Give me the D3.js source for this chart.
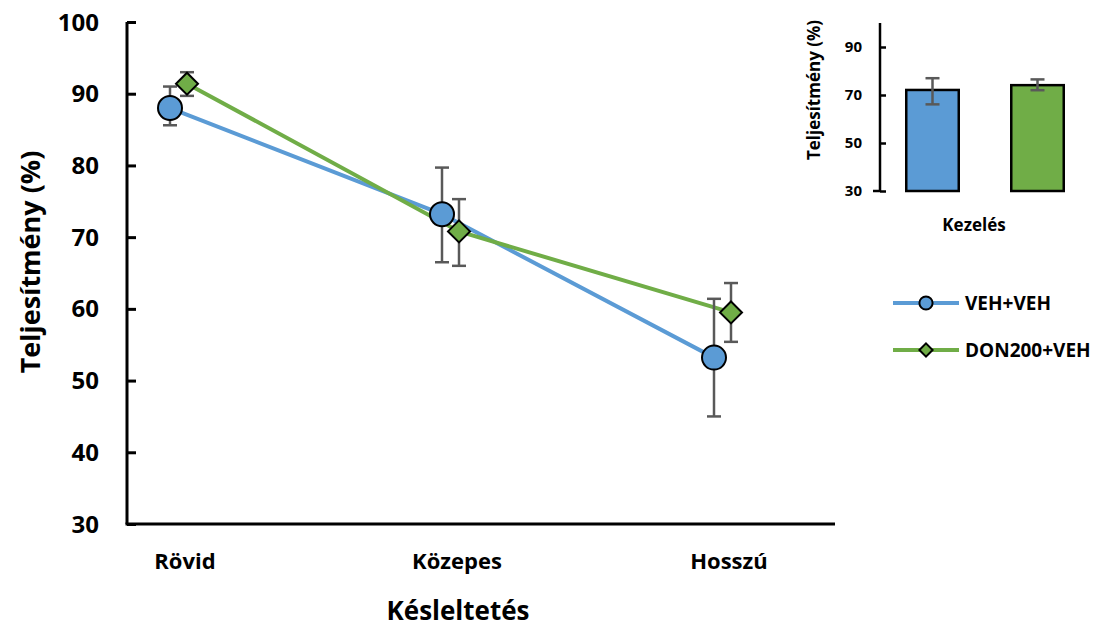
<!DOCTYPE html>
<html><head><meta charset="utf-8">
<script src="https://cdn.jsdelivr.net/npm/d3@7"></script>
<style>body{margin:0;background:#fff}svg{display:block}text{font-family:"Open Sans",Lato,sans-serif;font-weight:bold;fill:#000}</style>
</head><body><svg id="c" width="1096" height="629"></svg>
<script>
const categories = ["Rövid", "Közepes", "Hosszú"];
const seriesNames = ["VEH+VEH", "DON200+VEH"];
const vehMean = [88.0, 73.2, 53.2];
const vehErrLow = [85.6, 66.5, 45.0];
const vehErrHigh = [91.0, 79.7, 61.4];
const donMean = [91.4, 70.8, 59.5];
const donErrLow = [89.7, 66.0, 55.4];
const donErrHigh = [93.0, 75.3, 63.6];
const yTicks = [30, 40, 50, 60, 70, 80, 90, 100];
const insetCategories = ["VEH+VEH", "DON200+VEH"];
const insetMean = [72.1, 74.1];
const insetErrLow = [66.1, 72.0];
const insetErrHigh = [77.0, 76.5];
const insetTicks = [30, 50, 70, 90];

const colors = ["#5B9BD5", "#70AD47"];
const errColor = "#595959";
const svg = d3.select("#c");

// main chart
const y = d3.scaleLinear().domain([30, 100]).range([524, 22]);
const x = d3.scalePoint().domain(categories).range([185, 729]);
const axisLeftX = 127, axisRight = 835;

const yAx = svg.append("g").attr("transform", `translate(${axisLeftX},0)`)
  .call(d3.axisRight(y).tickValues(yTicks).tickSize(9).tickFormat(""));
yAx.select(".domain").attr("stroke", "#000").attr("stroke-width", 3).attr("d", `M0,${y(100)}V${y(30)}`);
yAx.selectAll(".tick line").attr("stroke", "#000").attr("stroke-width", 3);
svg.append("g").selectAll("text").data(yTicks).join("text")
  .attr("x", 99).attr("y", d => y(d)).attr("dy", "0.36em").attr("text-anchor", "end")
  .style("font-size", "24px").text(d => d);
svg.append("line").attr("x1", axisLeftX - 1.5).attr("x2", axisRight).attr("y1", y(30)).attr("y2", y(30))
  .attr("stroke", "#000").attr("stroke-width", 3);
svg.append("g").selectAll("text").data(categories).join("text")
  .attr("x", d => x(d)).attr("y", 569).attr("text-anchor", "middle").style("font-size", "22px").text(d => d);
svg.append("text").attr("x", 458).attr("y", 620).attr("text-anchor", "middle").style("font-size", "26px").text("Késleltetés");
svg.append("text").attr("transform", "translate(40,262) rotate(-90)").attr("text-anchor", "middle")
  .style("font-size", "27px").text("Teljesítmény (%)");

const series = [
  {name: seriesNames[0], mean: vehMean, lo: vehErrLow, hi: vehErrHigh, off: -15, color: colors[0], shape: "circle"},
  {name: seriesNames[1], mean: donMean, lo: donErrLow, hi: donErrHigh, off: 2, color: colors[1], shape: "diamond"}
];
const line = d3.line();
series.forEach(s => {
  const pts = categories.map((c, i) => [x(c) + s.off, y(s.mean[i])]);
  svg.append("path").attr("d", line(pts)).attr("fill", "none").attr("stroke", s.color).attr("stroke-width", 4);
});
series.forEach(s => {
  const g = svg.append("g");
  categories.forEach((c, i) => {
    const cx = x(c) + s.off;
    g.append("line").attr("x1", cx).attr("x2", cx).attr("y1", y(s.lo[i])).attr("y2", y(s.hi[i]))
      .attr("stroke", errColor).attr("stroke-width", 2.5);
    [s.lo[i], s.hi[i]].forEach(v => g.append("line").attr("x1", cx - 7).attr("x2", cx + 7)
      .attr("y1", y(v)).attr("y2", y(v)).attr("stroke", errColor).attr("stroke-width", 2.5));
  });
});
function marker(g, shape, cx, cy, color, scale) {
  if (shape === "circle") {
    g.append("circle").attr("cx", cx).attr("cy", cy).attr("r", 12 * scale).attr("fill", color)
      .attr("stroke", "#000").attr("stroke-width", 2);
  } else {
    const r = 11 * scale;
    g.append("path").attr("d", `M${cx},${cy - r}L${cx + r},${cy}L${cx},${cy + r}L${cx - r},${cy}Z`)
      .attr("fill", color).attr("stroke", "#000").attr("stroke-width", 2);
  }
}
series.forEach(s => {
  const g = svg.append("g");
  categories.forEach((c, i) => marker(g, s.shape, x(c) + s.off, y(s.mean[i]), s.color, 1));
});

// legend
series.forEach((s, i) => {
  const ly = 303 + i * 47;
  svg.append("line").attr("x1", 893).attr("x2", 959).attr("y1", ly).attr("y2", ly)
    .attr("stroke", s.color).attr("stroke-width", 4);
  marker(svg, s.shape, 926, ly, s.color, s.shape === "circle" ? 0.55 : 0.6);
  svg.append("text").attr("x", 965).attr("y", ly).attr("dy", "0.36em").style("font-size", "19px").text(s.name);
});

// inset
const iy = d3.scaleLinear().domain([30, 100]).range([191, 23]);
const ixBand = d3.scaleBand().domain(insetCategories).range([880, 1090]).paddingInner(0.5).paddingOuter(0.25);
const iAx = svg.append("g").attr("transform", "translate(880,0)")
  .call(d3.axisRight(iy).tickValues(insetTicks).tickSize(6).tickFormat(""));
iAx.select(".domain").attr("stroke", "#000").attr("stroke-width", 2.5).attr("d", `M0,${iy(100)}V${iy(30)}`);
iAx.selectAll(".tick line").attr("stroke", "#000").attr("stroke-width", 2.5);
svg.append("line").attr("x1", 873).attr("x2", 880).attr("y1", iy(30)).attr("y2", iy(30)).attr("stroke", "#000").attr("stroke-width", 2.5);
svg.append("g").selectAll("text").data(insetTicks).join("text")
  .attr("x", 862).attr("y", d => iy(d)).attr("dy", "0.36em").attr("text-anchor", "end")
  .style("font-size", "15px").text(d => d);
insetCategories.forEach((c, i) => {
  const bx = ixBand(c), bw = ixBand.bandwidth();
  svg.append("rect").attr("x", bx).attr("y", iy(insetMean[i])).attr("width", bw)
    .attr("height", iy(30) - iy(insetMean[i])).attr("fill", colors[i]).attr("stroke", "#000").attr("stroke-width", 2.5);
  const cx = bx + bw / 2;
  svg.append("line").attr("x1", cx).attr("x2", cx).attr("y1", iy(insetErrLow[i])).attr("y2", iy(insetErrHigh[i]))
    .attr("stroke", errColor).attr("stroke-width", 2.5);
  [insetErrLow[i], insetErrHigh[i]].forEach(v => svg.append("line").attr("x1", cx - 7).attr("x2", cx + 7)
    .attr("y1", iy(v)).attr("y2", iy(v)).attr("stroke", errColor).attr("stroke-width", 2.5));
});
svg.append("text").attr("x", 974).attr("y", 231).attr("text-anchor", "middle").style("font-size", "17px").text("Kezelés");
svg.append("text").attr("transform", "translate(820,90) rotate(-90)").attr("text-anchor", "middle")
  .style("font-size", "17px").text("Teljesítmény (%)");
</script></body></html>
